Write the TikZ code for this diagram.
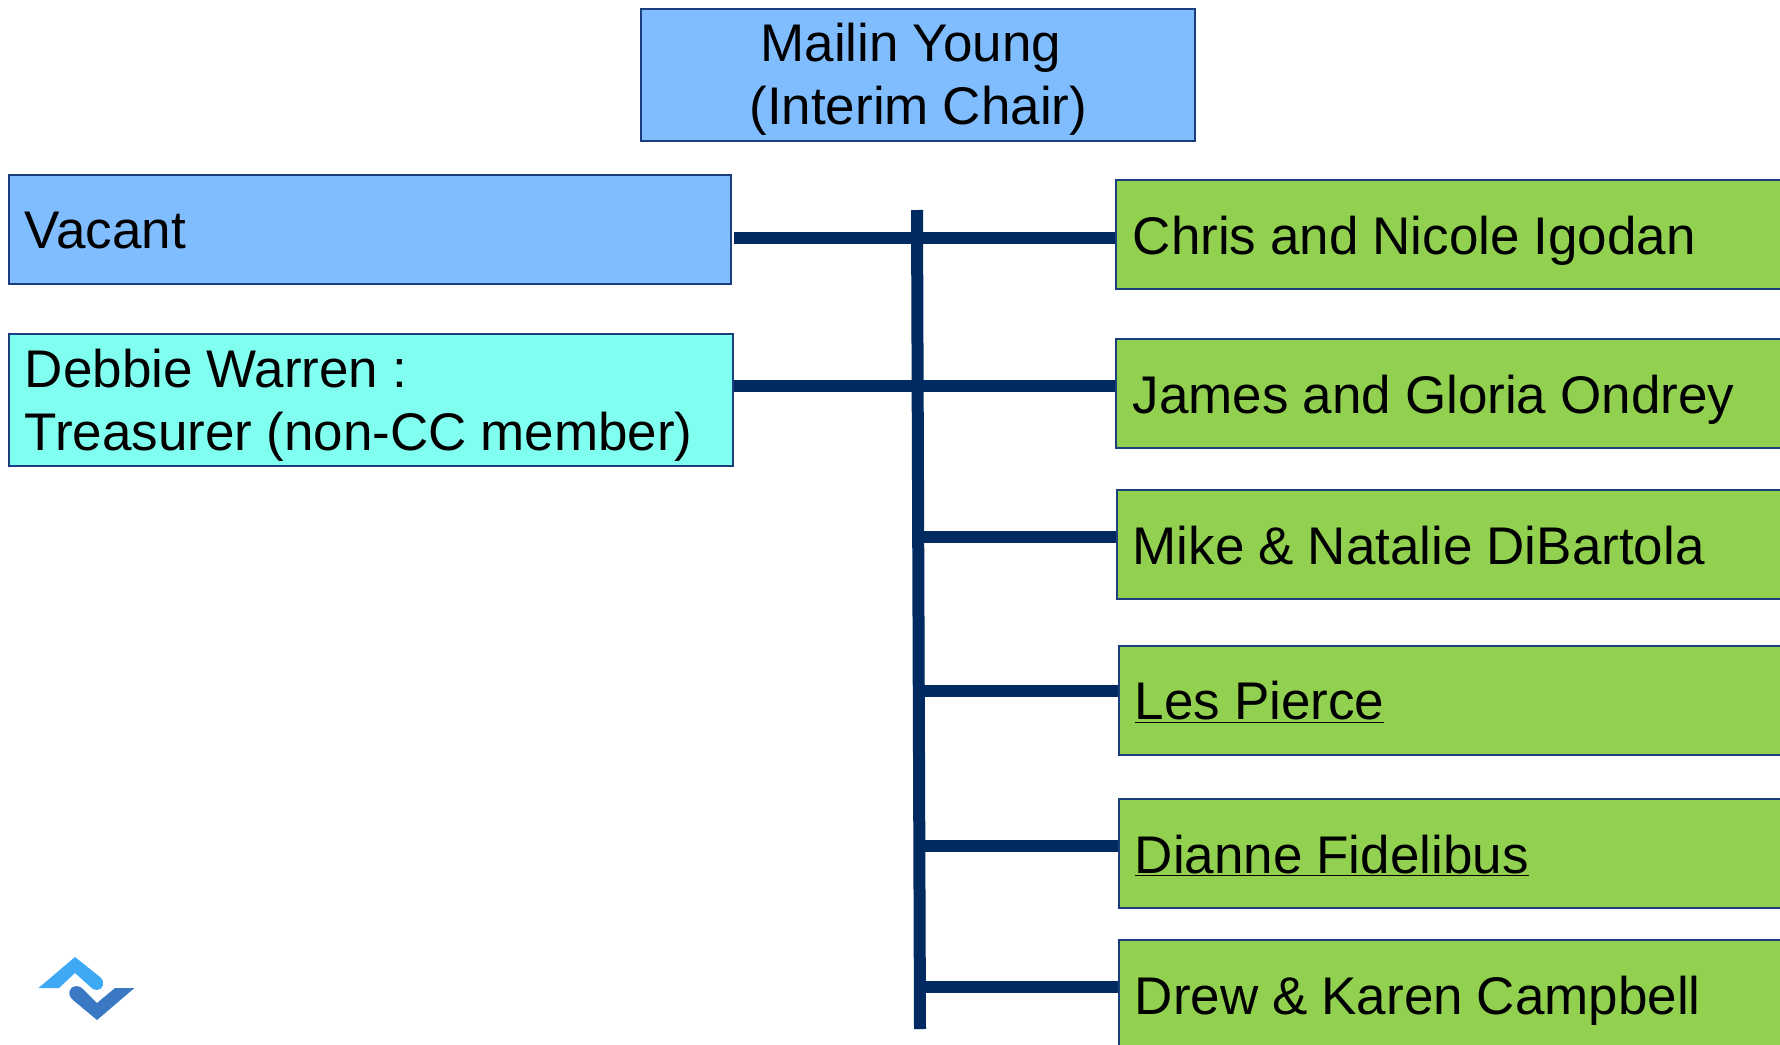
\documentclass[tikz,border=0pt]{standalone}
\usepackage{fontspec}
\setmainfont{Liberation Sans}
\definecolor{navy}{HTML}{002A60}
\definecolor{edgeblue}{HTML}{1B3F7C}
\definecolor{skyfill}{HTML}{7FBDFF}
\definecolor{cyanfill}{HTML}{80FFF0}
\definecolor{greenfill}{HTML}{92D14F}
\definecolor{logolight}{HTML}{3FA9F5}
\definecolor{logodark}{HTML}{3B78C3}
\newcommand{\lowered}[2]{\raisebox{-#1pt}[0pt][0pt]{\spaceskip=13.9pt\relax #2}}
\tikzset{
  boxbase/.style={draw=edgeblue,line width=1.6pt,anchor=north west,inner ysep=0pt,inner xsep=0pt,
    font=\fontsize{53}{63}\selectfont,text=black},
  leftbox/.style={boxbase,fill=#1,align=left},
  link/.style={draw=navy,line width=12pt},
}
\begin{document}
\begin{tikzpicture}[x=1pt,y=-1pt]
\useasboundingbox (0,0) rectangle (1780,1044);
\clip (0,0) rectangle (1780,1044);
\node[boxbase,fill=skyfill,align=center,minimum width=554pt,minimum height=132pt,text width=540pt] (chair) at (640,8) {\hspace*{-14pt}\lowered{18.5}{Mailin Young}\\\hspace*{1pt}\lowered{18.5}{(Interim Chair)}};
\node[leftbox=skyfill,minimum width=722pt,minimum height=109pt,text width=706pt] (vacant) at (8,174) {\hspace*{8pt}\lowered{19}{Vacant}};
\node[leftbox=cyanfill,minimum width=724pt,minimum height=132pt,text width=708pt] (debbie) at (8,333) {\hspace*{8pt}\lowered{19}{Debbie Warren :}\\\hspace*{8pt}\lowered{19}{Treasurer (non-CC member)}};
\node[leftbox=greenfill,minimum width=680pt,minimum height=109pt,text width=680pt] (chris) at (1115,179) {\hspace*{17pt}\lowered{20}{Chris and Nicole Igodan}};
\node[leftbox=greenfill,minimum width=680pt,minimum height=109pt,text width=680pt] (james) at (1115,338) {\hspace*{17pt}\lowered{20}{James and Gloria Ondrey}};
\node[leftbox=greenfill,minimum width=680pt,minimum height=109pt,text width=680pt] (mike) at (1116,489) {\hspace*{16pt}\lowered{20}{Mike \& Natalie DiBartola}};
\node[leftbox=greenfill,minimum width=680pt,minimum height=109pt,text width=680pt] (les) at (1118,645) {\hspace*{16pt}\lowered{19.5}{\underline{Les Pierce}}};
\node[leftbox=greenfill,minimum width=680pt,minimum height=109pt,text width=680pt] (dianne) at (1118,798) {\hspace*{16pt}\lowered{20}{\underline{Dianne Fidelibus}}};
\node[leftbox=greenfill,minimum width=680pt,minimum height=125pt,text width=680pt] (drew) at (1118,939) {\hspace*{16pt}\lowered{12.5}{Drew \& Karen Campbell}};
\coordinate (ttop) at (917,210);
\coordinate (tbot) at (920,1029);
\coordinate (y1) at (0,237.5);
\coordinate (y2) at (0,386);
\coordinate (y3) at (924,536.5);
\coordinate (y4) at (924,690.5);
\coordinate (y5) at (924,846);
\coordinate (y6) at (924,986.5);
\draw[link] (ttop) -- (tbot);
\draw[link] (vacant.east |- y1) ++(2.5,0) -- (chris.west |- y1);
\draw[link] (debbie.east |- y2) -- (james.west |- y2);
\draw[link] (y3) -- (mike.west |- y3);
\draw[link] (y4) -- (les.west |- y4);
\draw[link] (y5) -- (dianne.west |- y5);
\draw[link] (y6) -- (drew.west |- y6);
% logo
\fill[logolight] (38.5,988) -- (75,957) -- (100,977)
  .. controls (106,982) and (103,990) .. (97,990)
  .. controls (94,990) and (92,989) .. (90,986.5) -- (75,973) -- (59,988) -- cycle;
\fill[logodark] (134.5,988) -- (97,1020) -- (73,1000)
  .. controls (66,994) and (70,986) .. (76,986)
  .. controls (79,986) and (81,987) .. (83,989) -- (97,1003) -- (115,988) -- cycle;
\end{tikzpicture}
\end{document}
